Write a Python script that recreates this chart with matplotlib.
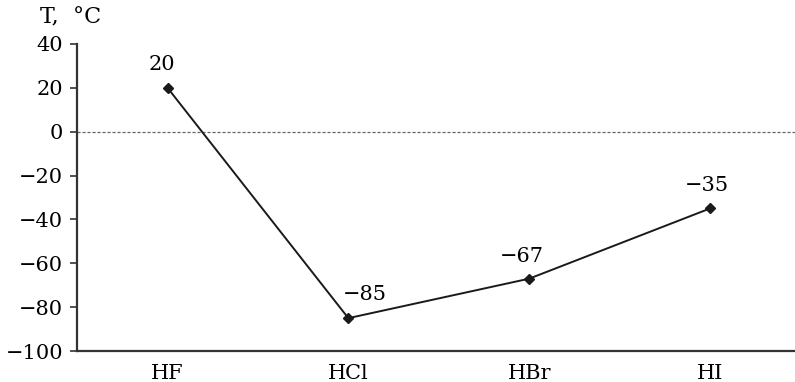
import matplotlib.pyplot as plt

## Data
compounds = ['HF', 'HCl', 'HBr', 'HI']
temps = [20, -85, -67, -35]
point_labels = ['20', '\u221285', '\u221267', '\u221235']
y_ticks = [-100, -80, -60, -40, -20, 0, 20, 40]

plt.rcParams['font.family'] = ['DejaVu Serif']
plt.rcParams['axes.unicode_minus'] = True

fig = plt.figure(figsize=(7.95, 3.82), dpi=100)
ax = fig.add_axes([0.097, 0.081, 0.903, 0.804])

x = list(range(len(compounds)))
ax.axhline(0, color='#666666', linestyle=(0, (2.5, 1.5)), linewidth=0.9)
ax.plot(x, temps, color='#1a1a1a', linewidth=1.4, marker='D', markersize=5.5)

# value labels next to points (offsets in points)
offsets = [(-4, 10), (12, 10), (-5, 9), (-2, 10)]
for xi, yi, lab, off in zip(x, temps, point_labels, offsets):
    ax.annotate(lab, (xi, yi), xytext=off, textcoords='offset points',
                ha='center', va='bottom', fontsize=15)

ax.set_xlim(-0.5, 3.47)
ax.set_ylim(-100, 40)
ax.set_xticks(x)
ax.set_xticklabels(compounds, fontsize=15)
ax.set_yticks(y_ticks)
ax.set_yticklabels([str(v).replace('-', '\u2212') for v in y_ticks], fontsize=15)
ax.tick_params(axis='x', length=0, pad=9)
ax.tick_params(axis='y', length=5, width=1.2, color='#333333', pad=5)

for s in ['top', 'right']:
    ax.spines[s].set_visible(False)
for s in ['left', 'bottom']:
    ax.spines[s].set_color('#333333')
    ax.spines[s].set_linewidth(1.6)

fig.text(0.05, 0.955, 'T,  \u00b0C', fontsize=16, va='center', ha='left')

fig.savefig('out.png', dpi=100)
